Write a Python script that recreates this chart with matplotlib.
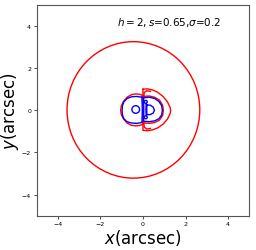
import numpy as np
import matplotlib
matplotlib.use('Agg')
import matplotlib.pyplot as plt
from matplotlib.patches import Ellipse

# big caustic (red), center and full width/height in arcsec
outer_center = [-0.45, 0.02]
outer_size = [6.24, 6.48]

# closed red curves
red_left = [(0.0, 0.70), (-0.15, 0.76), (-0.35, 0.78), (-0.55, 0.74), (-0.75, 0.62),
            (-0.92, 0.42), (-1.02, 0.2), (-1.05, 0.0), (-1.02, -0.2), (-0.92, -0.4),
            (-0.75, -0.6), (-0.55, -0.71), (-0.35, -0.74), (-0.15, -0.72), (0.0, -0.66),
            (0.02, -0.4), (0.03, 0.0), (0.02, 0.4), (0.0, 0.70)]
red_right = [(0.0, 1.0), (0.2, 1.02), (0.45, 0.97), (0.7, 0.85), (0.95, 0.65),
             (1.15, 0.4), (1.27, 0.15), (1.3, 0.0), (1.27, -0.17), (1.15, -0.42),
             (0.95, -0.65), (0.7, -0.83), (0.45, -0.93), (0.2, -0.97), (0.0, -0.95),
             (0.0, 1.0)]
red_mid = [(0.02, 0.66), (0.3, 0.68), (0.55, 0.62), (0.78, 0.48), (0.92, 0.25),
           (0.96, 0.0), (0.92, -0.25), (0.78, -0.46), (0.55, -0.58), (0.3, -0.62),
           (0.02, -0.6)]
red_top = [(0.04, 0.62), (0.06, 0.85), (0.18, 0.93), (0.35, 0.9)]
red_bot = [(0.04, -0.58), (0.06, -0.8), (0.18, -0.89), (0.35, -0.86)]

# blue curves
blue_left = [(-0.05, 0.62), (-0.3, 0.66), (-0.55, 0.64), (-0.75, 0.56), (-0.9, 0.4),
             (-0.97, 0.2), (-0.98, 0.0), (-0.97, -0.2), (-0.9, -0.4), (-0.75, -0.54),
             (-0.55, -0.6), (-0.3, -0.62), (-0.05, -0.58), (-0.04, -0.3), (-0.03, 0.0),
             (-0.04, 0.3), (-0.05, 0.62)]
blue_right = [(0.03, 0.6), (0.3, 0.62), (0.55, 0.56), (0.75, 0.42), (0.88, 0.22),
              (0.91, 0.0), (0.88, -0.22), (0.75, -0.4), (0.55, -0.5), (0.3, -0.54),
              (0.03, -0.52), (0.03, 0.6)]
blue_d = [(0.18, 0.26), (0.35, 0.24), (0.48, 0.15), (0.54, 0.0), (0.48, -0.13),
          (0.35, -0.2), (0.18, -0.21), (0.18, 0.26)]
blue_stem = [(0.15, 0.33), (0.14, 0.05), (0.15, -0.26)]
# small blue circles: x, y, radius
blue_circles = [(-0.34, 0.04, 0.18), (0.13, 0.4, 0.07), (0.13, -0.33, 0.07)]

ticks = [-4, -2, 0, 2, 4]

fig = plt.figure(figsize=(2.56, 2.51), dpi=100)
ax = fig.add_axes([0.143, 0.137, 0.831, 0.839])

ax.add_patch(Ellipse(outer_center, outer_size[0], outer_size[1], fill=False,
                     color='red', lw=1.0))
for c in [red_left, red_right, red_mid, red_top, red_bot]:
    c = np.array(c)
    ax.plot(c[:, 0], c[:, 1], color='red', lw=1.0)
for c in [blue_left, blue_right, blue_d, blue_stem]:
    c = np.array(c)
    ax.plot(c[:, 0], c[:, 1], color='blue', lw=1.0)
for x, y, r in blue_circles:
    ax.add_patch(Ellipse((x, y), 2 * r, 2 * r, fill=False, color='blue', lw=1.0))

ax.text(-1.2, 4.2, r'$h=2,s$=0.65,$\sigma$=0.2', fontsize=7.5, va='center')

ax.set_xlim(-5, 5)
ax.set_ylim(-5, 5)
ax.set_xticks(ticks)
ax.set_yticks(ticks)
ax.tick_params(labelsize=4.5, length=2, width=0.5, pad=2)
for s in ax.spines.values():
    s.set_color('#555555')
    s.set_linewidth(0.8)
ax.set_xlabel(r'$x$(arcsec)', fontsize=12, labelpad=0.5)
ax.set_ylabel(r'$y$(arcsec)', fontsize=12, labelpad=0.5)

fig.savefig('out.png', dpi=100)
